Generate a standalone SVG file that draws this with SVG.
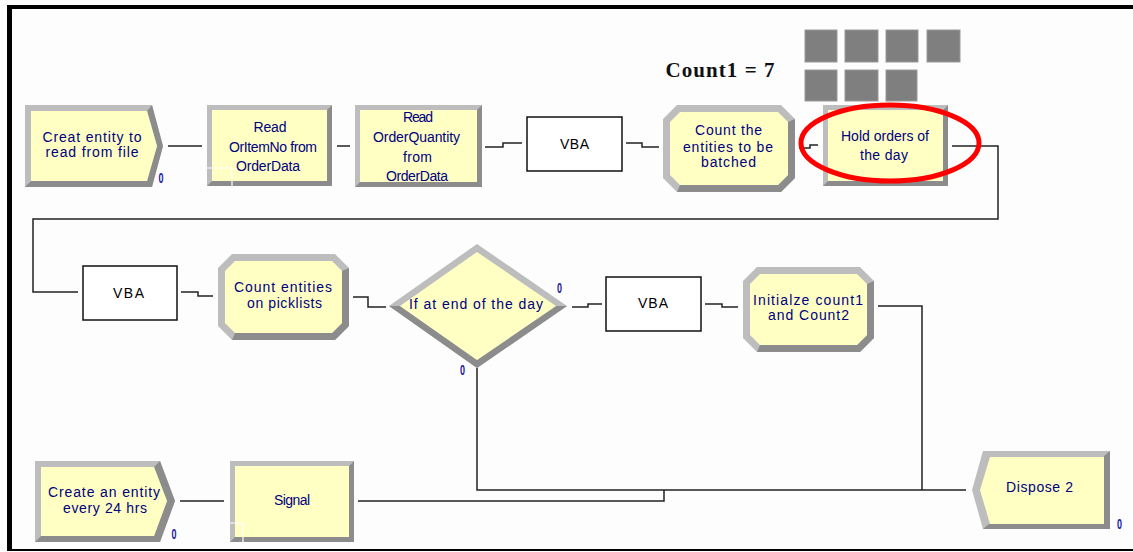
<svg xmlns="http://www.w3.org/2000/svg" width="1133" height="552" viewBox="0 0 1133 552">
  <style>
    .lt { fill: #bdbdbd; }
    .dk { fill: #8c8c8c; }
    .yl { fill: #ffffc4; }
    .lbl { font-family: "Liberation Sans", Arial, sans-serif; font-size: 14px; fill: #000080; text-anchor: middle; }
    .vbat { font-family: "Liberation Sans", Arial, sans-serif; font-size: 14px; fill: #000; text-anchor: middle; }
    .cnt { font-family: "Liberation Sans", Arial, sans-serif; font-size: 14px; font-weight: bold; fill: #1a1aa0; text-anchor: middle; }
    .vbabox { fill: #fff; stroke: #111; stroke-width: 1.5; }
    .con { fill: none; stroke: #222; stroke-width: 1.5; }
    .port { fill: none; stroke: #fff; stroke-width: 1.2; }
    .ent { fill: #7f7f7f; stroke: #9a9a9a; stroke-width: 1; }
  </style>

  <rect x="0" y="0" width="1133" height="552" fill="#fdfdfd"/>

  <!-- window frame -->
  <rect x="7" y="5" width="1126" height="4" fill="#000"/>
  <rect x="7" y="5" width="5" height="546" fill="#000"/>
  <rect x="7" y="549" width="1126" height="2" fill="#000"/>

  <!-- counter variable and queued entities -->
  <text x="720" y="77" font-family="Liberation Serif, Times New Roman, serif" font-size="21" font-weight="bold" fill="#111" text-anchor="middle" textLength="109" lengthAdjust="spacing">Count1 = 7</text>
  <g id="queue">
    <rect class="ent" x="805" y="30" width="32" height="32"/>
    <rect class="ent" x="845" y="30" width="33" height="32"/>
    <rect class="ent" x="886" y="30" width="32" height="32"/>
    <rect class="ent" x="927" y="30" width="33" height="32"/>
    <rect class="ent" x="805" y="70" width="32" height="31"/>
    <rect class="ent" x="845" y="70" width="33" height="31"/>
    <rect class="ent" x="886" y="70" width="31" height="31"/>
  </g>

  <!-- connectors -->
  <g id="connectors">
    <path class="con" d="M168 146 H202"/>
    <path class="con" d="M337 146 H350"/>
    <path class="con" d="M485 147 H503 V143 H522"/>
    <path class="con" d="M626 143 H642 V147 H659"/>
    <path class="con" d="M799 148 H810 V145 H818"/>
    <path class="con" d="M952 146 H998 V219 H33 V292 H78"/>
    <path class="con" d="M181 292 H198 V296 H213"/>
    <path class="con" d="M353 297 H368 V307 H386"/>
    <path class="con" d="M572 307 H588 V304 H602"/>
    <path class="con" d="M705 304 H722 V307 H738"/>
    <path class="con" d="M878 306 H922 V490"/>
    <path class="con" d="M477 368 V490 H966"/>
    <path class="con" d="M180 501 H224"/>
    <path class="con" d="M358 501 H664 V490"/>
  </g>

  <!-- Create: Creat entity to read from file -->
  <g id="create-read-file">
    <polygon class="lt" points="25,105 152,105 163,146 152,187 25,187"/>
    <polygon class="dk" points="152,105 163,146 152,187 25,187 31,181 147,181 157,146 147,111"/>
    <polygon class="yl" points="31,111 147,111 157,146 147,181 31,181"/>
    <text class="lbl" x="92" y="141.5" textLength="99" lengthAdjust="spacing">Creat entity to</text>
    <text class="lbl" x="92" y="157" textLength="93" lengthAdjust="spacing">read from file</text>
    <text class="cnt" x="161" y="183" textLength="5" lengthAdjust="spacingAndGlyphs">0</text>
  </g>

  <!-- Read OrItemNo from OrderData -->
  <g id="read-itemno">
    <rect class="lt" x="207" y="105" width="125" height="81"/>
    <polygon class="dk" points="332,105 332,186 207,186 212,181 327,181 327,110"/>
    <rect class="yl" x="212" y="110" width="115" height="71"/>
    <text class="lbl" x="270" y="131.5" textLength="33" lengthAdjust="spacing">Read</text>
    <text class="lbl" x="273" y="151.5" textLength="88" lengthAdjust="spacing">OrItemNo from</text>
    <text class="lbl" x="268" y="170.5" textLength="64" lengthAdjust="spacing">OrderData</text>
    <path class="port" d="M207 168 H232 V190"/>
  </g>

  <!-- Read OrderQuantity from OrderData -->
  <g id="read-quantity">
    <rect class="lt" x="355" y="105" width="127" height="82"/>
    <polygon class="dk" points="482,105 482,187 355,187 360,182 477,182 477,110"/>
    <rect class="yl" x="360" y="110" width="117" height="72"/>
    <text class="lbl" x="418" y="121.5" textLength="30" lengthAdjust="spacing">Read</text>
    <text class="lbl" x="416.5" y="141.5" textLength="87" lengthAdjust="spacing">OrderQuantity</text>
    <text class="lbl" x="417.5" y="161.5" textLength="29" lengthAdjust="spacing">from</text>
    <text class="lbl" x="417" y="181" textLength="62" lengthAdjust="spacing">OrderData</text>
  </g>

  <!-- VBA block 1 -->
  <g id="vba-1">
    <rect class="vbabox" x="527" y="117" width="95" height="54"/>
    <text class="vbat" x="574.5" y="149" textLength="29" lengthAdjust="spacing">VBA</text>
  </g>

  <!-- Count the entities to be batched -->
  <g id="count-batched">
    <polygon class="lt" points="677,105 781,105 795,119 795,178 781,192 677,192 663,178 663,119"/>
    <polygon class="dk" points="795,119 795,178 781,192 677,192 680,185 778,185 788,175 788,122"/>
    <polygon class="yl" points="680,112 778,112 788,122 788,175 778,185 680,185 670,175 670,122"/>
    <text class="lbl" x="728.5" y="135" textLength="67" lengthAdjust="spacing">Count the</text>
    <text class="lbl" x="728" y="151.5" textLength="90" lengthAdjust="spacing">entities to be</text>
    <text class="lbl" x="728.5" y="167" textLength="55" lengthAdjust="spacing">batched</text>
  </g>

  <!-- Hold orders of the day -->
  <g id="hold-orders">
    <rect class="lt" x="823" y="105" width="125" height="81"/>
    <polygon class="dk" points="948,105 948,186 823,186 828,181 943,181 943,110"/>
    <rect class="yl" x="828" y="110" width="115" height="71"/>
    <text class="lbl" x="885" y="141" textLength="88" lengthAdjust="spacing">Hold orders of</text>
    <text class="lbl" x="884" y="160" textLength="48" lengthAdjust="spacing">the day</text>
  </g>

  <!-- VBA block 2 -->
  <g id="vba-2">
    <rect class="vbabox" x="83" y="266" width="94" height="54"/>
    <text class="vbat" x="128.5" y="298" textLength="31" lengthAdjust="spacing">VBA</text>
  </g>

  <!-- Count entities on picklists -->
  <g id="count-picklists">
    <polygon class="lt" points="232,254 335,254 349,268 349,326 335,340 232,340 218,326 218,268"/>
    <polygon class="dk" points="349,268 349,326 335,340 232,340 235,333 332,333 342,323 342,271"/>
    <polygon class="yl" points="235,261 332,261 342,271 342,323 332,333 235,333 225,323 225,271"/>
    <text class="lbl" x="283" y="292" textLength="98" lengthAdjust="spacing">Count entities</text>
    <text class="lbl" x="284.5" y="308" textLength="75" lengthAdjust="spacing">on picklists</text>
  </g>

  <!-- Decide: If at end of the day -->
  <g id="decide-end-of-day">
    <polygon class="lt" points="389,306 477,244 567,306 477,368"/>
    <polygon class="dk" points="567,306 477,368 389,306 400,306 477,360 556,306"/>
    <polygon class="yl" points="400,306 477,252 556,306 477,360"/>
    <text class="lbl" x="476" y="308.5" textLength="134" lengthAdjust="spacing">If at end of the day</text>
    <text class="cnt" x="559.5" y="293" textLength="5" lengthAdjust="spacingAndGlyphs">0</text>
    <text class="cnt" x="462.5" y="375" textLength="5" lengthAdjust="spacingAndGlyphs">0</text>
  </g>

  <!-- VBA block 3 -->
  <g id="vba-3">
    <rect class="vbabox" x="606" y="277" width="95" height="54"/>
    <text class="vbat" x="653" y="308" textLength="30" lengthAdjust="spacing">VBA</text>
  </g>

  <!-- Initialze count1 and Count2 -->
  <g id="init-counts">
    <polygon class="lt" points="757,267 860,267 874,281 874,338 860,352 757,352 743,338 743,281"/>
    <polygon class="dk" points="874,281 874,338 860,352 757,352 760,345 857,345 867,335 867,284"/>
    <polygon class="yl" points="760,274 857,274 867,284 867,335 857,345 760,345 750,335 750,284"/>
    <text class="lbl" x="808" y="305" textLength="110" lengthAdjust="spacing">Initialze count1</text>
    <text class="lbl" x="808.5" y="320" textLength="81" lengthAdjust="spacing">and Count2</text>
  </g>

  <!-- Create: Create an entity every 24 hrs -->
  <g id="create-daily">
    <polygon class="lt" points="35,461 160,461 175,501 160,542 35,542"/>
    <polygon class="dk" points="160,461 175,501 160,542 35,542 41,536 154,536 167,501 154,467"/>
    <polygon class="yl" points="41,467 154,467 167,501 154,536 41,536"/>
    <text class="lbl" x="104" y="496.5" textLength="112" lengthAdjust="spacing">Create an entity</text>
    <text class="lbl" x="105" y="513" textLength="84" lengthAdjust="spacing">every 24 hrs</text>
    <text class="cnt" x="174" y="539" textLength="5" lengthAdjust="spacingAndGlyphs">0</text>
  </g>

  <!-- Signal -->
  <g id="signal">
    <rect class="lt" x="230" y="461" width="124" height="81"/>
    <polygon class="dk" points="354,461 354,542 230,542 235,537 349,537 349,466"/>
    <rect class="yl" x="235" y="466" width="114" height="71"/>
    <text class="lbl" x="292" y="505" textLength="36" lengthAdjust="spacing">Signal</text>
    <path class="port" d="M230 523 H243 V546"/>
  </g>

  <!-- Dispose 2 -->
  <g id="dispose-2">
    <polygon class="lt" points="983,451 1110,451 1110,529 983,529 972,490"/>
    <polygon class="dk" points="1110,451 1110,529 983,529 989,524 1104,524 1104,456"/>
    <polygon class="yl" points="990,457 1104,457 1104,524 990,524 980,490"/>
    <text class="lbl" x="1039.5" y="492" textLength="67" lengthAdjust="spacing">Dispose 2</text>
    <text class="cnt" x="1119.5" y="529" textLength="5" lengthAdjust="spacingAndGlyphs">0</text>
  </g>

  <!-- highlight ring -->
  <ellipse cx="890" cy="143" rx="89" ry="38" fill="none" stroke="#f00" stroke-width="5"/>
</svg>
